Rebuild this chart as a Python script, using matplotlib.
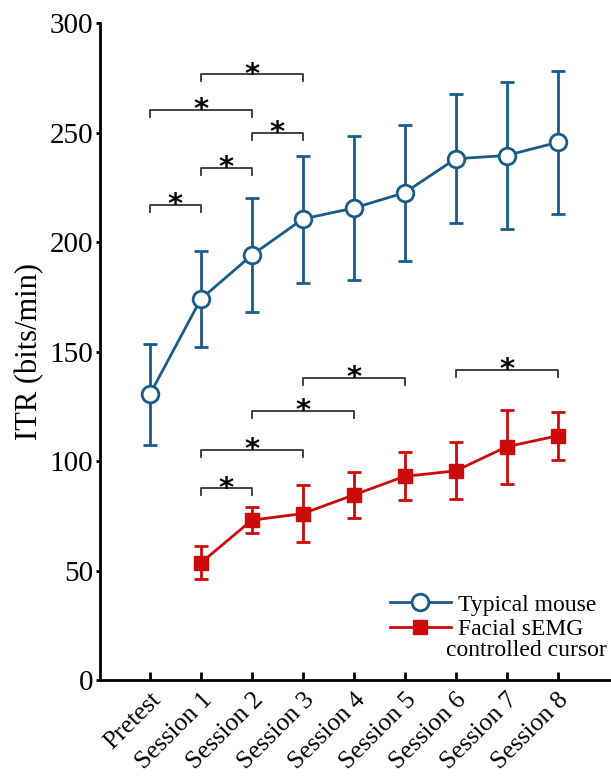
import matplotlib.pyplot as plt
from matplotlib.lines import Line2D
import numpy as np

# x categories
sessions = ['Pretest', 'Session 1', 'Session 2', 'Session 3', 'Session 4',
            'Session 5', 'Session 6', 'Session 7', 'Session 8']

# typical mouse (all 9 points)
mouse_mean = [130.5, 174, 194, 210.5, 215.5, 222.5, 238, 239.5, 245.5]
mouse_err = [23, 22, 26, 29, 33, 31, 29.5, 33.5, 32.5]

# facial sEMG cursor (session 1..8)
semg_mean = [53.5, 73, 76, 84.5, 93, 95.5, 106.5, 111.5]
semg_err = [7.5, 6, 13, 10.5, 11, 13, 17, 11]

# significance brackets: (start idx, end idx, height)
mouse_sig = [(0, 1, 217), (1, 2, 234), (0, 2, 260.5), (2, 3, 250), (1, 3, 276.5)]
semg_sig = [(1, 2, 87.5), (1, 3, 105), (2, 4, 123), (3, 5, 138), (6, 8, 141.5)]

blue = '#1b5b87'
red = '#cc0a0a'

plt.rcParams['font.family'] = ['Liberation Serif', 'DejaVu Serif']

fig = plt.figure(figsize=(6.11, 7.77), dpi=100)
ax = fig.add_axes([0.1637, 0.1248, 0.8363, 0.8456])

x = np.arange(len(sessions))

ax.errorbar(x, mouse_mean, yerr=mouse_err, color=blue, lw=2, marker='o',
            ms=12, mfc='white', mec=blue, mew=2, capsize=5, capthick=2,
            elinewidth=2, zorder=3)
ax.errorbar(x[1:], semg_mean, yerr=semg_err, color=red, lw=2, marker='s',
            ms=10, mfc=red, mec=red, capsize=5, capthick=2, elinewidth=2,
            zorder=3)


def bracket(i, j, h):
    ax.plot([i, i, j, j], [h - 3.2, h, h, h - 3.2], color='#333333', lw=1.3)
    ax.text((i + j) / 2, h - 6.5, '*', ha='center', va='bottom', fontsize=21,
            family='DejaVu Sans', fontweight='bold')


for s in mouse_sig + semg_sig:
    bracket(*s)

ax.set_xlim(-0.98, 9.05)
ax.set_ylim(0, 300)
ax.set_yticks([0, 50, 100, 150, 200, 250, 300])
ax.set_xticks(x)
ax.set_xticklabels(sessions, rotation=45, ha='right', rotation_mode='anchor',
                   fontsize=18.5)
ax.tick_params(axis='y', labelsize=21, direction='out', length=3, width=2, pad=2)
ax.tick_params(axis='x', direction='in', length=6, width=2, pad=6)
ax.set_ylabel('ITR (bits/min)', fontsize=22, labelpad=4)

for sp in ['top', 'right']:
    ax.spines[sp].set_visible(False)
for sp in ['left', 'bottom']:
    ax.spines[sp].set_linewidth(2)

handles = [Line2D([], [], color=blue, lw=2, marker='o', ms=12, mfc='white',
                  mec=blue, mew=2),
           Line2D([], [], color=red, lw=2, marker='s', ms=10, mfc=red, mec=red)]
leg = ax.legend(handles, ['Typical mouse', 'Facial sEMG'], loc='lower left',
                bbox_to_anchor=(0.567, 0.061), frameon=False, fontsize=17,
                handlelength=2.6, handletextpad=0.3, labelspacing=0.12,
                borderaxespad=0, borderpad=0)
ax.text(0.835, 0.0457, 'controlled cursor', transform=ax.transAxes,
        ha='center', va='center', fontsize=17)

plt.savefig('out.png', dpi=100)
